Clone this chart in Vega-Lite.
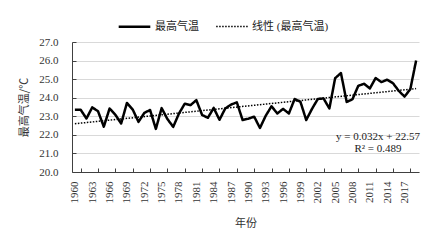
{
  "$schema": "https://vega.github.io/schema/vega-lite/v6.json",
  "width": 347,
  "height": 130,
  "autosize": "none",
  "padding": {"left": 72, "top": 42, "right": 13, "bottom": 72},
  "background": "white",
  "config": {
    "view": {"stroke": null},
    "font": "Liberation Serif, Noto Sans CJK SC",
    "axis": {"labelFont": "Liberation Serif", "labelColor": "#333333", "titleColor": "#333333", "titleFont": "Noto Sans CJK SC", "titleFontWeight": "normal", "labelFontSize": 11, "titleFontSize": 11, "domainColor": "#404040", "tickColor": "#404040", "gridColor": "#d9d9d9"}
  },
  "datasets": {
    "temps": [
      {"year": 1960, "temp": 23.35, "series": "最高气温"},
      {"year": 1961, "temp": 23.35, "series": "最高气温"},
      {"year": 1962, "temp": 22.88, "series": "最高气温"},
      {"year": 1963, "temp": 23.48, "series": "最高气温"},
      {"year": 1964, "temp": 23.27, "series": "最高气温"},
      {"year": 1965, "temp": 22.44, "series": "最高气温"},
      {"year": 1966, "temp": 23.42, "series": "最高气温"},
      {"year": 1967, "temp": 23.08, "series": "最高气温"},
      {"year": 1968, "temp": 22.61, "series": "最高气温"},
      {"year": 1969, "temp": 23.72, "series": "最高气温"},
      {"year": 1970, "temp": 23.36, "series": "最高气温"},
      {"year": 1971, "temp": 22.70, "series": "最高气温"},
      {"year": 1972, "temp": 23.18, "series": "最高气温"},
      {"year": 1973, "temp": 23.34, "series": "最高气温"},
      {"year": 1974, "temp": 22.32, "series": "最高气温"},
      {"year": 1975, "temp": 23.44, "series": "最高气温"},
      {"year": 1976, "temp": 22.85, "series": "最高气温"},
      {"year": 1977, "temp": 22.43, "series": "最高气温"},
      {"year": 1978, "temp": 23.15, "series": "最高气温"},
      {"year": 1979, "temp": 23.68, "series": "最高气温"},
      {"year": 1980, "temp": 23.60, "series": "最高气温"},
      {"year": 1981, "temp": 23.87, "series": "最高气温"},
      {"year": 1982, "temp": 23.07, "series": "最高气温"},
      {"year": 1983, "temp": 22.92, "series": "最高气温"},
      {"year": 1984, "temp": 23.45, "series": "最高气温"},
      {"year": 1985, "temp": 22.81, "series": "最高气温"},
      {"year": 1986, "temp": 23.42, "series": "最高气温"},
      {"year": 1987, "temp": 23.63, "series": "最高气温"},
      {"year": 1988, "temp": 23.75, "series": "最高气温"},
      {"year": 1989, "temp": 22.80, "series": "最高气温"},
      {"year": 1990, "temp": 22.87, "series": "最高气温"},
      {"year": 1991, "temp": 22.98, "series": "最高气温"},
      {"year": 1992, "temp": 22.37, "series": "最高气温"},
      {"year": 1993, "temp": 23.03, "series": "最高气温"},
      {"year": 1994, "temp": 23.54, "series": "最高气温"},
      {"year": 1995, "temp": 23.15, "series": "最高气温"},
      {"year": 1996, "temp": 23.40, "series": "最高气温"},
      {"year": 1997, "temp": 23.15, "series": "最高气温"},
      {"year": 1998, "temp": 23.93, "series": "最高气温"},
      {"year": 1999, "temp": 23.78, "series": "最高气温"},
      {"year": 2000, "temp": 22.80, "series": "最高气温"},
      {"year": 2001, "temp": 23.40, "series": "最高气温"},
      {"year": 2002, "temp": 23.93, "series": "最高气温"},
      {"year": 2003, "temp": 23.96, "series": "最高气温"},
      {"year": 2004, "temp": 23.42, "series": "最高气温"},
      {"year": 2005, "temp": 25.05, "series": "最高气温"},
      {"year": 2006, "temp": 25.33, "series": "最高气温"},
      {"year": 2007, "temp": 23.77, "series": "最高气温"},
      {"year": 2008, "temp": 23.92, "series": "最高气温"},
      {"year": 2009, "temp": 24.64, "series": "最高气温"},
      {"year": 2010, "temp": 24.75, "series": "最高气温"},
      {"year": 2011, "temp": 24.50, "series": "最高气温"},
      {"year": 2012, "temp": 25.06, "series": "最高气温"},
      {"year": 2013, "temp": 24.84, "series": "最高气温"},
      {"year": 2014, "temp": 24.97, "series": "最高气温"},
      {"year": 2015, "temp": 24.78, "series": "最高气温"},
      {"year": 2016, "temp": 24.37, "series": "最高气温"},
      {"year": 2017, "temp": 24.06, "series": "最高气温"},
      {"year": 2018, "temp": 24.46, "series": "最高气温"},
      {"year": 2019, "temp": 26.00, "series": "最高气温"},
      {"year": 1960, "temp": 22.60, "series": "线性 (最高气温)"},
      {"year": 2019, "temp": 24.49, "series": "线性 (最高气温)"}
    ],
    "notes": [
      {"year": 2012.4, "temp": 21.9, "text": ["y = 0.032x + 22.57", "R² = 0.489"]}
    ]
  },
  "layer": [
    {
      "data": {"name": "temps"},
      "mark": {"type": "line", "color": "black", "strokeCap": "butt", "strokeJoin": "round"},
      "encoding": {
        "x": {
          "field": "year", "type": "quantitative",
          "scale": {"domain": [1959.5, 2019.5], "nice": false, "zero": false},
          "axis": {
            "title": "年份", "values": [1961,1964,1967,1970,1973,1976,1979,1982,1985,1988,1991,1994,1997,2000,2003,2006,2009,2012,2015,2018],
            "tickCount": 100,
            "labelExpr": "toString(datum.value - 1)", "labelOffset": -5.78, "labelAngle": 270, "labelAlign": "right", "labelBaseline": "middle",
            "tickSize": -4, "labelPadding": 13, "grid": false, "titlePadding": 14, "labelFlush": false, "labelOverlap": false
          }
        },
        "y": {
          "field": "temp", "type": "quantitative",
          "scale": {"domain": [20, 27], "nice": false, "zero": false},
          "axis": {"title": "最高气温/℃", "values": [20,21,22,23,24,25,26,27], "tickCount": 100, "labelOverlap": false, "format": ".1f", "tickSize": -4, "labelPadding": 18, "grid": true, "titlePadding": 9}
        },
        "strokeDash": {
          "field": "series", "type": "nominal",
          "scale": {"domain": ["最高气温", "线性 (最高气温)"], "range": [[1, 0], [1.5, 1.5]]},
          "legend": {
            "title": null, "orient": "none", "legendX": 45, "legendY": -33, "direction": "horizontal",
            "symbolType": "stroke", "symbolSize": 1000, "symbolStrokeColor": "black",
            "labelFont": "Liberation Serif, Noto Sans CJK SC", "labelFontSize": 11, "labelColor": "#222222", "labelOffset": 3, "columnPadding": 14,
            "symbolStrokeWidth": 2
          }
        },
        "strokeWidth": {
          "field": "series", "type": "nominal",
          "scale": {"domain": ["最高气温", "线性 (最高气温)"], "range": [2.5, 1.5]},
          "legend": null
        }
      }
    },
    {
      "data": {"name": "notes"},
      "mark": {"type": "text", "align": "center", "baseline": "middle", "font": "Liberation Serif", "fontSize": 11, "lineHeight": 12, "color": "#222222"},
      "encoding": {
        "x": {"field": "year", "type": "quantitative"},
        "y": {"field": "temp", "type": "quantitative"},
        "text": {"field": "text"}
      }
    }
  ]
}
